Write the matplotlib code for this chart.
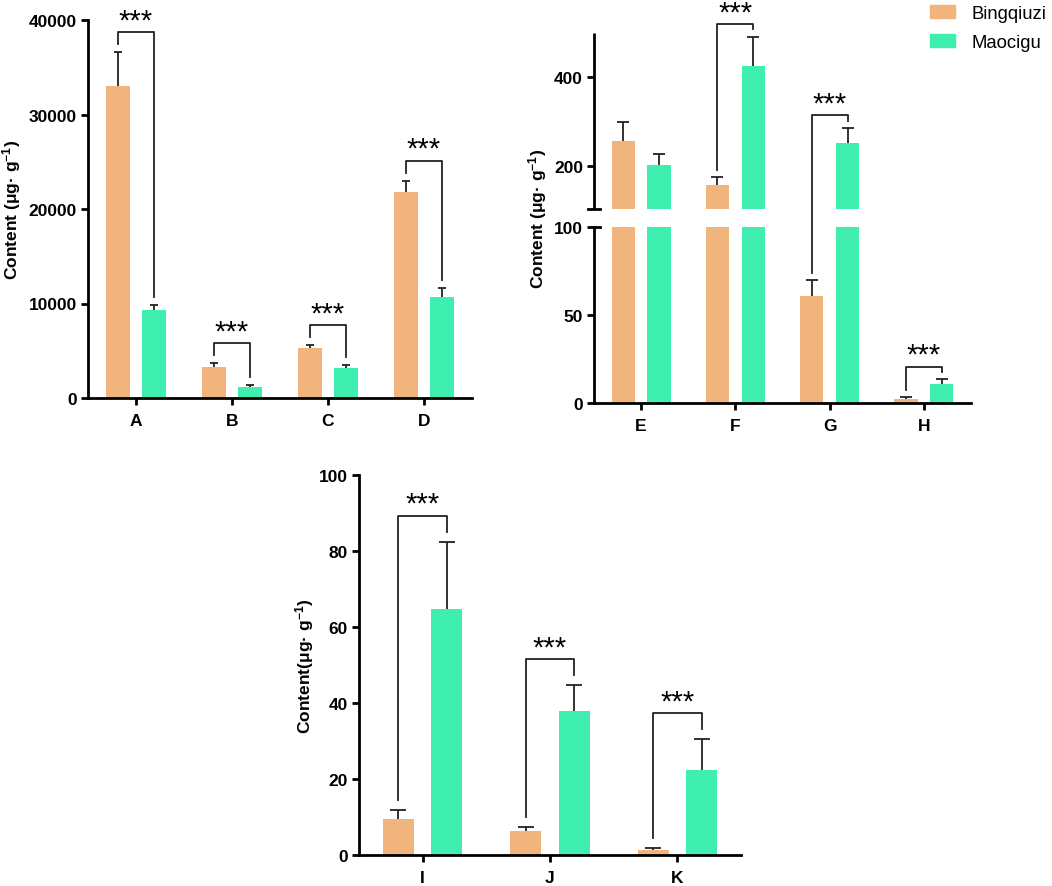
import numpy as np
import matplotlib
matplotlib.use('Agg')
import matplotlib.pyplot as plt
from matplotlib.patches import Patch

plt.rcParams['font.family'] = ['Liberation Sans', 'DejaVu Sans']
plt.rcParams['mathtext.fontset'] = 'custom'
plt.rcParams['mathtext.rm'] = 'Liberation Sans:bold'
plt.rcParams['mathtext.bf'] = 'Liberation Sans:bold'
plt.rcParams['mathtext.default'] = 'rm'

#----- Data -----------------------------------------------------------------------------------

groups1 = ['A', 'B', 'C', 'D']
bing1 = [33000, 3300, 5300, 21800]
bing1_err = [3600, 400, 300, 1200]
mao1 = [9300, 1200, 3200, 10700]
mao1_err = [500, 200, 300, 950]
sig1 = ['***', '***', '***', '***']

groups2 = ['E', 'F', 'G', 'H']
bing2 = [255, 157, 61, 2.5]
bing2_err = [43, 18, 9, 0.7]
mao2 = [202, 425, 252, 11]
mao2_err = [25, 68, 34, 2.6]
sig2 = ['', '***', '***', '***']

groups3 = ['I', 'J', 'K']
bing3 = [9.4, 6.2, 1.3]
bing3_err = [2.5, 1.3, 0.45]
mao3 = [64.7, 37.8, 22.4]
mao3_err = [17.8, 6.9, 8.1]
sig3 = ['***', '***', '***']

c_bing = '#F0B47C'
c_mao = '#3FEFB0'
c_line = '#222222'

#----- Broken axis scale (0-100 / 101-501) ----------------------------------------------------

def fwd(v):
        v = np.asarray(v, dtype=float)
        return np.where(v <= 100, v, np.where(v < 101, 100 + (v - 100) * 10, 110 + (v - 101) / 4))

def inv(c):
        c = np.asarray(c, dtype=float)
        return np.where(c <= 100, c, np.where(c < 110, 100 + (c - 100) / 10, 101 + (c - 110) * 4))

def ident(v):
        return np.asarray(v, dtype=float)

#----- Helpers --------------------------------------------------------------------------------

W, H = 1052, 887

def make_ax(fig, left, right, bottom, top):
        return fig.add_axes([left / W, 1 - bottom / H, (right - left) / W, (bottom - top) / H])

def style(ax, groups, ylabel, lab_x):
        for s in ['top', 'right']:
                ax.spines[s].set_visible(False)
        for s in ['left', 'bottom']:
                ax.spines[s].set_linewidth(2.0)
        ax.tick_params(axis='both', direction='out', length=5, width=2.0, labelsize=12.5, pad=3)
        ax.tick_params(axis='x', pad=6, labelsize=12.5)
        ax.set_xticks(np.arange(len(groups)))
        ax.set_xticklabels(groups, fontweight='bold')
        for t in ax.get_yticklabels():
                t.set_fontweight('bold')
        ax.set_xlim(-0.5, len(groups) - 0.5)
        ax.set_ylabel(ylabel, fontsize=12.5, fontweight='bold')
        ax.yaxis.set_label_coords(lab_x, 0.5)

def errbars(ax, x, vals, errs, cap):
        vals = np.asarray(vals, dtype=float)
        tops = vals + np.asarray(errs, dtype=float)
        ax.vlines(x, vals, tops, color=c_line, lw=1.3, zorder=3)
        ax.plot(x, tops, ls='none', marker='_', markersize=cap, mew=1.3, color=c_line, zorder=3)

def brackets(ax, x, b, be, m, me, sig, f, fi, off, gap, dx):
        for i in range(len(x)):
                if sig[i] == '':
                        continue
                c1 = float(f(b[i] + be[i]))
                c2 = float(f(m[i] + me[i]))
                top = max(c1, c2) + off
                xl, xr = x[i] - dx, x[i] + dx
                ys = [float(fi(c1 + gap)), float(fi(top)), float(fi(top)), float(fi(c2 + gap))]
                ax.plot([xl, xl, xr, xr], ys, color=c_line, lw=1.3, clip_on=False, zorder=4)
                ax.annotate(sig[i], xy=(x[i], ys[1]), xytext=(0, -1.5), textcoords='offset points',
                            ha='center', va='bottom', fontsize=21, annotation_clip=False)

fig = plt.figure(figsize=(W / 100, H / 100), dpi=100)

dx = 0.19
bw = 0.245

#----- Panel 1 --------------------------------------------------------------------------------

ax1 = make_ax(fig, 88, 472, 399, 21)
x1 = np.arange(len(groups1))
ax1.bar(x1 - dx, bing1, bw, color=c_bing, zorder=2)
ax1.bar(x1 + dx, mao1, bw, color=c_mao, zorder=2)
errbars(ax1, x1 - dx, bing1, bing1_err, 5.5)
errbars(ax1, x1 + dx, mao1, mao1_err, 5.5)
ax1.set_ylim(0, 40000)
ax1.set_yticks([0, 10000, 20000, 30000, 40000])
style(ax1, groups1, 'Content (μg· g$^{-1}$)', -0.169)
brackets(ax1, x1, bing1, bing1_err, mao1, mao1_err, sig1, ident, ident, 2100, 850, dx)

#----- Panel 2 (broken y axis) ----------------------------------------------------------------

ax2 = make_ax(fig, 594, 971, 404, 34)
ax2.set_yscale('function', functions=(fwd, inv))
x2 = np.arange(len(groups2))
for off, vals, col in [(-dx, bing2, c_bing), (dx, mao2, c_mao)]:
        v = np.asarray(vals, dtype=float)
        ax2.bar(x2 + off, np.minimum(v, 100), bw, color=col, zorder=2)
        up = v > 101
        ax2.bar(x2[up] + off, v[up] - 101, bw, bottom=101, color=col, zorder=2)
errbars(ax2, x2 - dx, bing2, bing2_err, 8)
errbars(ax2, x2 + dx, mao2, mao2_err, 8)
ax2.set_ylim(0, 501)
ax2.set_yticks([0, 50, 100, 200, 400])
ax2.set_yticks([], minor=True)
style(ax2, groups2, 'Content (μg· g$^{-1}$)', -0.119)
ax2.spines['left'].set_bounds(0, 100)
ytr = ax2.get_yaxis_transform()
ax2.plot([0, 0], [101, 501], color='k', lw=2.0, transform=ytr, clip_on=False, solid_capstyle='butt')
ax2.plot([-0.016, 0.016], [101, 101], color='k', lw=2.0, transform=ytr, clip_on=False)
ax2.plot([0, 0.016], [100, 100], color='k', lw=2.0, transform=ytr, clip_on=False)
brackets(ax2, x2, bing2, bing2_err, mao2, mao2_err, sig2, fwd, inv, 7, 4, dx)

#----- Panel 3 --------------------------------------------------------------------------------

ax3 = make_ax(fig, 359, 741, 856, 476)
x3 = np.arange(len(groups3))
ax3.bar(x3 - dx, bing3, bw, color=c_bing, zorder=2)
ax3.bar(x3 + dx, mao3, bw, color=c_mao, zorder=2)
errbars(ax3, x3 - dx, bing3, bing3_err, 11.5)
errbars(ax3, x3 + dx, mao3, mao3_err, 11.5)
ax3.set_ylim(0, 100)
ax3.set_yticks([0, 20, 40, 60, 80, 100])
style(ax3, groups3, 'Content(μg· g$^{-1}$)', -0.113)
brackets(ax3, x3, bing3, bing3_err, mao3, mao3_err, sig3, ident, ident, 6.8, 2.6, dx)

#----- Legend ---------------------------------------------------------------------------------

handles = [Patch(color=c_bing, label='Bingqiuzi'), Patch(color=c_mao, label='Maocigu')]
fig.legend(handles=handles, loc='upper left', bbox_to_anchor=(926 / W, 1 - 2 / H), frameon=False,
           fontsize=13.3, handlelength=1.35, handleheight=0.7, handletextpad=0.9,
           labelspacing=0.67, borderpad=0.2, borderaxespad=0)

fig.savefig('out.png', dpi=100)
